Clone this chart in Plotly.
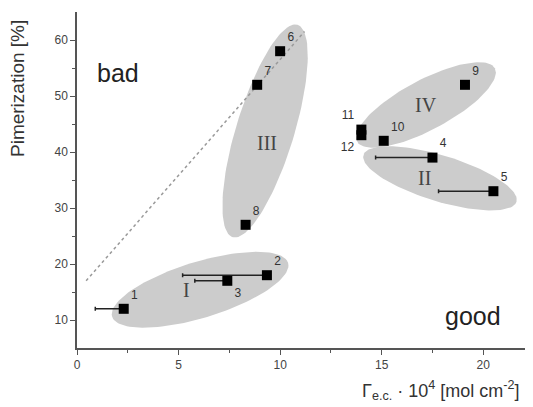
import numpy as np
import plotly.graph_objects as go

# ---- data ----
labels = ["1", "2", "3", "4", "5", "6", "7", "8", "9", "10", "11", "12"]
gamma = [2.3, 9.35, 7.4, 17.5, 20.5, 10.0, 8.87, 8.3, 19.1, 15.1, 14.0, 14.0]
pimer = [12, 18, 17, 39, 33, 58, 52, 27, 52, 42, 44, 43]
err_minus = [1.4, 4.15, 1.6, 2.8, 2.7, 0, 0, 0, 0, 0, 0, 0]
label_pos = ["top right", "top right", "bottom right", "top right", "top right",
             "top right", "top right", "top right", "top right", "top right",
             "top left", "bottom left"]

# groups: name, center x, center y, semi-major (px), semi-minor (px), angle (deg)
group_names = ["I", "II", "III", "IV"]
group_cx = [6.06, 17.87, 9.26, 17.18]
group_cy = [15.4, 35.3, 43.75, 48.4]
group_a = [92, 80, 111, 78]
group_b = [28, 23, 29, 25]
group_ang = [17, -17, 73, 28]
group_lab_x = [5.4, 17.1, 9.35, 17.2]
group_lab_y = [15.4, 35.4, 41.6, 48.4]

trend_x = [0.45, 11.2]
trend_y = [17.0, 61.5]

XR = [0, 22.4]
YR = [5, 65]
OFF = 8  # page body margin
W, H = 533 - OFF, 407 - OFF
L, R, T, B = 77 - OFF, 1, 12 - OFF, 59
PW, PH = W - L - R, H - T - B
pxx = PW / (XR[1] - XR[0])
pxy = PH / (YR[1] - YR[0])


def px(xr):
    return (xr - OFF - L) / PW


def py(yr):
    return 1 - (yr - OFF - T) / PH


fig = go.Figure()

# shaded ellipses
th = np.linspace(0, 2 * np.pi, 120)
for cx, cy, a, b, ang in zip(group_cx, group_cy, group_a, group_b, group_ang):
    r = np.deg2rad(ang)
    dx = a * np.cos(th) * np.cos(r) - b * np.sin(th) * np.sin(r)
    dy = a * np.cos(th) * np.sin(r) + b * np.sin(th) * np.cos(r)
    fig.add_trace(go.Scatter(
        x=cx + dx / pxx, y=cy + dy / pxy, mode="lines", fill="toself",
        fillcolor="rgb(204,204,204)", line=dict(width=0), hoverinfo="skip",
        showlegend=False))

# dotted trend line
fig.add_trace(go.Scatter(x=trend_x, y=trend_y, mode="lines",
                         line=dict(color="#999", width=1.5, dash="dot"),
                         showlegend=False, hoverinfo="skip"))

# points
fig.add_trace(go.Scatter(
    x=gamma, y=pimer, mode="markers+text", text=labels,
    textposition=label_pos,
    textfont=dict(family="Liberation Sans, Arial", size=12, color="#333"),
    marker=dict(symbol="square", size=10, color="black"),
    error_x=dict(type="data", symmetric=False, array=[0] * len(gamma),
                 arrayminus=err_minus, color="#222", thickness=1.5, width=2),
    showlegend=False))

for name, x, y in zip(group_names, group_lab_x, group_lab_y):
    fig.add_annotation(x=x, y=y, text=name, showarrow=False,
                       xanchor="center", yanchor="middle",
                       font=dict(family="Liberation Serif, DejaVu Serif", size=20, color="#444"))

fig.add_annotation(xref="paper", yref="paper", x=px(118), y=py(73),
                   xanchor="center", yanchor="middle",
                   text="bad", showarrow=False,
                   font=dict(family="Liberation Sans, Arial", size=25, color="#222"))
fig.add_annotation(xref="paper", yref="paper", x=px(473), y=py(316),
                   xanchor="center", yanchor="middle",
                   text="good", showarrow=False,
                   font=dict(family="Liberation Sans, Arial", size=25, color="#222"))

# axis titles
fig.add_annotation(xref="paper", yref="paper", x=px(18), y=py(88),
                   xanchor="center", yanchor="middle",
                   text="Pimerization [%]", textangle=-90, showarrow=False,
                   font=dict(family="Liberation Sans, Arial", size=19, color="#333"))
fig.add_annotation(xref="paper", yref="paper", x=px(522), y=py(390),
                   xanchor="right", yanchor="middle",
                   text="Γ<sub>e.c.</sub> · 10<sup>4</sup> [mol cm<sup>-2</sup>]",
                   showarrow=False,
                   font=dict(family="Liberation Sans, Arial", size=18, color="#333"))

axis_common = dict(showgrid=False, zeroline=False, showline=True, linecolor="#555",
                   linewidth=1.5, ticks="outside", ticklen=5, tickwidth=1.2,
                   tickcolor="#555",
                   tickfont=dict(family="Liberation Sans, Arial", size=12, color="#444"))
fig.update_xaxes(range=XR, tickvals=[0, 5, 10, 15, 20],
                 minor=dict(tickvals=[2.5, 7.5, 12.5, 17.5], ticks="outside",
                            ticklen=3, tickcolor="#555"),
                 **axis_common)
fig.update_yaxes(range=YR, tickvals=[10, 20, 30, 40, 50, 60],
                 minor=dict(tickvals=[15, 25, 35, 45, 55], ticks="outside",
                            ticklen=3, tickcolor="#555"),
                 **axis_common)

fig.update_layout(width=W, height=H, margin=dict(l=L, r=R, t=T, b=B),
                  plot_bgcolor="white", paper_bgcolor="white")

fig.write_html("out.html")
